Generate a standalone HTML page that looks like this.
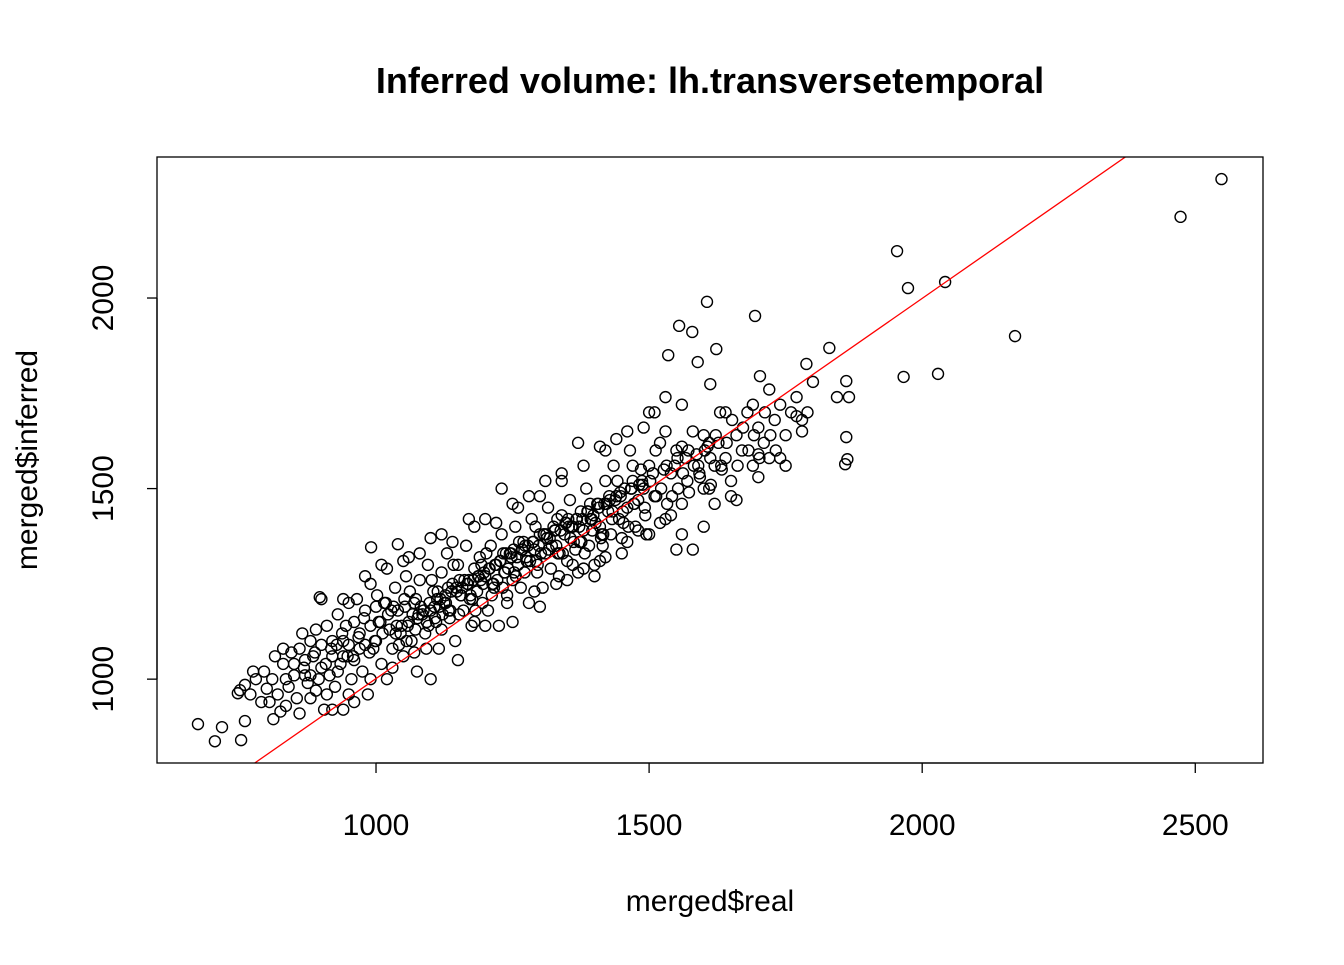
<!DOCTYPE html>
<html><head><meta charset="utf-8"><style>
html,body{margin:0;padding:0;background:#fff;}
svg text{font-family:"Liberation Sans",Arial,sans-serif;fill:#000;}
</style></head><body>
<svg id="chart" width="1344" height="960" xmlns="http://www.w3.org/2000/svg">
<rect width="1344" height="960" fill="#fff"/>
<text x="710" y="93" font-size="36" font-weight="bold" text-anchor="middle">Inferred volume: lh.transversetemporal</text>
<text x="710" y="911" font-size="30" text-anchor="middle">merged$real</text>
<text transform="translate(37,460) rotate(-90)" font-size="30" text-anchor="middle">merged$inferred</text>
<g id="marks"></g>
<g id="axes"></g>
<rect x="157" y="157" width="1106" height="606" fill="none" stroke="#000" stroke-width="1.3"/>
</svg>
<script>
const xTicks=[1000,1500,2000,2500];
const yTicks=[1000,1500,2000];
const lineIntercept=4;
const lineSlope=0.9975;
const realVals=[674,705,718,753,747,760,751,1954,1974,2042,2473,2548,2170,1966,2029,1606,1694,1555,1579,1623,1535,1589,1830,1788,1861,1866,1844,1861,1863,1859,991,1040,897,1612,1703,
810,820,830,840,850,860,870,880,890,895,805,815,825,835,845,855,865,875,885,800,780,790,770,760,775,795,812,835,860,880,900,905,910,920,930,940,950,960,970,980,990,995,915,925,935,945,955,965,975,985,
1000,1005,1010,1015,1020,1025,1030,1035,1040,1045,1050,1055,1060,1065,1070,1075,1080,1085,1090,1095,1100,1105,1110,1115,1120,1125,1130,1135,1140,1145,1150,1155,1160,1165,1170,1175,1180,1185,1190,1195,1200,1205,1210,1215,1220,1225,1230,1235,1240,1245,1250,1255,1260,1265,1270,1275,1280,1285,1290,1295,1300,1305,1310,1315,1320,1325,1330,1335,1340,1345,1350,1355,1360,1365,1370,1375,1380,1385,1390,1395,1400,1405,1410,1415,1420,1425,1430,1435,1440,1445,1450,1455,1460,1465,1470,1475,1480,1485,1490,1495,1500,1510,1520,1530,1540,1550,1560,1570,1580,1590,1600,1610,1620,1630,1640,1650,1660,1670,1680,1690,1700,1710,1720,1730,1740,1750,1760,1770,1780,1790,1800,
1002,1012,1022,1032,1042,1052,1062,1072,1082,1092,1102,1112,1122,1132,1142,1152,1162,1172,1182,1192,1202,1212,1222,1232,1242,1252,1262,1272,1282,1292,1302,1312,1322,1332,1342,1352,1362,1372,1382,1392,1402,1412,1422,1432,1442,1452,1462,1472,1482,1492,1502,1512,1522,1532,1542,1552,1562,1572,1582,1592,1602,1612,1622,1632,1642,1652,1662,1672,1682,1692,1702,1712,1722,1732,
880,900,920,940,960,980,1000,990,970,950,930,910,890,870,850,830,1020,1060,1100,1140,1180,1220,1260,1300,1340,1380,1420,1460,1500,1530,1560,
1100,1150,1200,1250,1300,1350,1400,1450,1500,1550,1580,1600,1650,1700,1750,1380,1420,1480,1520,1560,1620,1660,1700,1740,1780,1770,1720,1690,1640,1600,1560,1530,1510,1490,1470,1440,1410,1370,1340,1310,1280,1250,1230,1200,1170,1120,1080,1050,1010,980,940,900,1120,1180,1240,1290,1330,1360,1410,1460,1540,1610,1070,1030,990,950,920,940,960,
1108,1128,1148,1168,1188,1208,1228,1248,1268,1288,1308,1328,1348,1368,1388,1408,1428,1448,1468,1488,1058,1078,1098,1118,1138,1158,1178,1198,1218,1238,1258,1278,1298,1318,1338,1358,1378,1398,1418,1438,
1047,1067,1087,1107,1127,1147,1167,1187,1207,1227,1247,1267,1287,1307,1327,1347,1367,1387,1407,1427,1447,1467,1487,1507,1527,1547,1567,1587,1607,1627,
1053,1073,1093,1113,1133,1153,1173,1193,1213,1233,1253,1273,1293,1313,1333,1353,1373,1393,1413,1433,1453,1473,1493,1513,1533,1553,1573,1593,1613,1633,
1036,1056,1076,1096,1116,1136,1156,1176,1196,1216,1236,1256,1276,1296,1316,1336,1356,1376,1396,1416,
918,938,958,978,998,1018,1038,868,888,908,928,948,968,988,1008,1028];
const inferredVals=[882,837,874,840,963,890,971,2123,2026,2042,2213,2312,1900,1793,1801,1990,1953,1927,1911,1866,1850,1832,1869,1827,1782,1740,1740,1635,1577,1564,1346,1354,1215,1774,1795,
1000,960,1040,980,1010,1080,1050,1100,1130,1000,940,1060,915,1000,1070,950,1120,990,1060,975,1000,940,960,985,1020,1020,895,930,910,950,1090,920,1140,1060,1170,1100,1200,1050,1120,1180,1250,1080,1010,980,1040,1140,1000,1210,1020,960,
1100,1150,1040,1200,1000,1130,1080,1240,1180,1120,1060,1270,1150,1100,1200,1020,1260,1170,1120,1300,1180,1230,1150,1080,1280,1200,1330,1160,1250,1100,1300,1220,1180,1350,1260,1140,1290,1230,1320,1200,1270,1180,1350,1250,1300,1140,1380,1280,1220,1330,1260,1400,1300,1240,1360,1320,1200,1420,1340,1280,1380,1240,1330,1450,1290,1400,1350,1270,1430,1380,1310,1470,1400,1340,1280,1440,1390,1500,1350,1420,1300,1460,1400,1350,1520,1440,1380,1560,1480,1420,1370,1500,1450,1600,1520,1400,1470,1550,1500,1380,1560,1480,1620,1420,1540,1600,1460,1520,1650,1560,1500,1620,1560,1700,1580,1520,1640,1600,1700,1560,1660,1620,1580,1680,1720,1640,1700,1690,1650,1700,1780,
1220,1120,1170,1190,1090,1210,1230,1130,1190,1080,1260,1210,1170,1240,1300,1170,1260,1210,1180,1260,1330,1220,1260,1240,1290,1340,1360,1280,1310,1400,1330,1380,1350,1420,1330,1420,1360,1400,1330,1460,1410,1370,1460,1420,1520,1440,1400,1460,1510,1450,1520,1600,1500,1560,1480,1580,1540,1600,1560,1540,1600,1580,1640,1560,1620,1680,1560,1660,1600,1640,1580,1700,1640,1600,
1010,1030,1100,1060,1150,1090,1190,1140,1080,1090,1020,960,970,1010,1040,1080,1290,1320,1370,1360,1400,1410,1450,1480,1520,1560,1600,1650,1700,1740,1720,
1000,1050,1140,1150,1190,1260,1270,1330,1380,1340,1340,1400,1480,1530,1560,1290,1320,1390,1410,1380,1460,1470,1590,1580,1680,1740,1760,1720,1700,1640,1610,1650,1700,1660,1560,1630,1610,1620,1540,1520,1480,1460,1500,1420,1420,1380,1330,1310,1300,1270,1210,1210,1130,1150,1200,1230,1250,1300,1310,1360,1430,1500,1070,1030,1000,960,920,920,940,
1160,1200,1230,1250,1270,1290,1310,1320,1340,1360,1380,1390,1410,1420,1440,1450,1470,1480,1500,1510,1140,1170,1200,1210,1230,1240,1260,1280,1300,1330,1320,1350,1350,1370,1390,1400,1420,1430,1460,1470,
1140,1170,1180,1190,1220,1240,1250,1270,1290,1310,1330,1340,1360,1380,1390,1410,1420,1440,1460,1480,1490,1500,1520,1540,1550,1560,1580,1590,1610,1620,
1190,1210,1150,1230,1180,1260,1220,1300,1250,1330,1280,1350,1310,1370,1330,1400,1360,1420,1380,1440,1410,1460,1430,1480,1460,1500,1490,1530,1510,1550,
1120,1100,1160,1140,1190,1180,1220,1210,1250,1240,1280,1270,1310,1300,1340,1330,1370,1360,1390,1380,
1080,1120,1060,1160,1100,1200,1140,1030,1070,1040,1090,1060,1110,1070,1150,1180];

const X0=157,X1=1263,Y0=763,Y1=157;
const xMin=599,xMax=2624,yMin=780,yMax=2370;
function sx(v){return X0+(v-xMin)/(xMax-xMin)*(X1-X0);}
function sy(v){return Y0-(v-yMin)/(yMax-yMin)*(Y0-Y1);}
const NS="http://www.w3.org/2000/svg";
const marks=document.getElementById('marks');
const axes=document.getElementById('axes');
for(let i=0;i<realVals.length;i++){
  const c=document.createElementNS(NS,'circle');
  c.setAttribute('cx',sx(realVals[i]));c.setAttribute('cy',sy(inferredVals[i]));
  c.setAttribute('r',5.5);c.setAttribute('fill','none');c.setAttribute('stroke','#000');c.setAttribute('stroke-width','1.4');
  
  
  marks.appendChild(c);
}
const clip=document.createElementNS(NS,'clipPath');clip.setAttribute('id','pc');
const cr=document.createElementNS(NS,'rect');cr.setAttribute('x',X0);cr.setAttribute('y',Y1);cr.setAttribute('width',X1-X0);cr.setAttribute('height',Y0-Y1);
clip.appendChild(cr);document.getElementById('chart').appendChild(clip);
const ln=document.createElementNS(NS,'line');
ln.setAttribute('x1',sx(xMin));ln.setAttribute('y1',sy(lineIntercept+lineSlope*xMin));
ln.setAttribute('x2',sx(xMax));ln.setAttribute('y2',sy(lineIntercept+lineSlope*xMax));
ln.setAttribute('stroke','#ff0000');ln.setAttribute('stroke-width','1.3');ln.setAttribute('clip-path','url(#pc)');


marks.appendChild(ln);
const xa=document.createElementNS(NS,'line');
xa.setAttribute('x1',sx(xTicks[0]));xa.setAttribute('x2',sx(xTicks[xTicks.length-1]));xa.setAttribute('y1',Y0);xa.setAttribute('y2',Y0);xa.setAttribute('stroke','#000');xa.setAttribute('stroke-width','1.3');


axes.appendChild(xa);
xTicks.forEach(t=>{
  const l=document.createElementNS(NS,'line');
  l.setAttribute('x1',sx(t));l.setAttribute('x2',sx(t));l.setAttribute('y1',Y0);l.setAttribute('y2',Y0+10);l.setAttribute('stroke','#000');l.setAttribute('stroke-width','1.3');
  
  
  axes.appendChild(l);
  const tx=document.createElementNS(NS,'text');
  tx.setAttribute('x',sx(t));tx.setAttribute('y',835);tx.setAttribute('font-size','30');tx.setAttribute('text-anchor','middle');tx.textContent=t;
  
  
  axes.appendChild(tx);
});
const ya=document.createElementNS(NS,'line');
ya.setAttribute('x1',X0);ya.setAttribute('x2',X0);ya.setAttribute('y1',sy(yTicks[0]));ya.setAttribute('y2',sy(yTicks[yTicks.length-1]));ya.setAttribute('stroke','#000');ya.setAttribute('stroke-width','1.3');


axes.appendChild(ya);
yTicks.forEach(t=>{
  const l=document.createElementNS(NS,'line');
  l.setAttribute('x1',X0-10);l.setAttribute('x2',X0);l.setAttribute('y1',sy(t));l.setAttribute('y2',sy(t));l.setAttribute('stroke','#000');l.setAttribute('stroke-width','1.3');
  
  
  axes.appendChild(l);
  const tx=document.createElementNS(NS,'text');
  tx.setAttribute('transform','translate(113,'+sy(t)+') rotate(-90)');tx.setAttribute('font-size','30');tx.setAttribute('text-anchor','middle');tx.textContent=t;
  
  
  axes.appendChild(tx);
});
</script>
</body></html>
